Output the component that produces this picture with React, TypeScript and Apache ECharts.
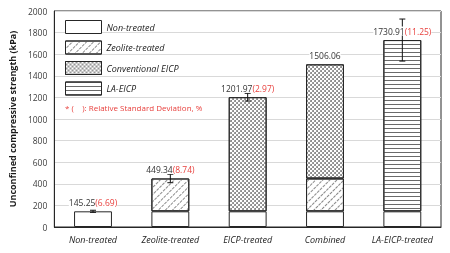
import React, { useEffect, useRef } from "react";
import * as echarts from "echarts";

const categories = ["Non-treated", "Zeolite-treated", "EICP-treated", "Combined", "LA-EICP-treated"];
const nonTreated = [145.25, 145.25, 145.25, 145.25, 145.25];
const zeolite = [null, 304.09, null, 304.09, null];
const eicp = [null, null, 1056.72, 1056.72, null];
const laEicp = [null, null, null, null, 1585.66];
const totals = [145.25, 449.34, 1201.97, 1506.06, 1730.91];
const totalLabels = ["145.25", "449.34", "1201.97", "1506.06", "1730.91"];
const rsdLabels = ["(6.69)", "(8.74)", "(2.97)", "", "(11.25)"];
const errors = [9.7, 39.3, 35.7, 0, 194.7];

const FONT = "Open Sans";
const BORDER = "#262626";

export default function App() {
  const ref = useRef<HTMLDivElement>(null);
  useEffect(() => {
    if (!ref.current) return;
    const chart = echarts.init(ref.current, null, { renderer: "svg" });
    const barStyle = (decal: any) => ({
      color: "#ffffff",
      borderColor: BORDER,
      borderWidth: 1,
      decal,
    });
    const zeoDecal = {
      symbol: "rect",
      symbolSize: 1,
      color: "#8a8a8a",
      backgroundColor: "#ffffff",
      dashArrayX: [[3, 1]],
      dashArrayY: [0.8, 3.5],
      rotation: -Math.PI / 4,
    };
    const eicpDecal = {
      symbol: "circle",
      symbolSize: 0.9,
      color: "#6e6e6e",
      backgroundColor: "#ffffff",
      dashArrayX: [[1.5, 1.5], [0, 1.5, 1.5, 0]],
      dashArrayY: [1.5, 0],
      rotation: 0,
    };
    const laDecal = {
      symbol: "rect",
      symbolSize: 1,
      color: "#6a6a6a",
      backgroundColor: "#ffffff",
      dashArrayX: [1, 0],
      dashArrayY: [0.8, 2.6],
      rotation: 0,
    };
    const customData = categories.map((_, i) => [i, totals[i], errors[i]]);
    chart.setOption({
      animation: false,
      textStyle: { fontFamily: FONT },
      grid: { left: 53, top: 11, right: 9, bottom: 26, show: true, borderColor: BORDER, borderWidth: 1, containLabel: false },
      legend: {
        data: ["Non-treated", "Zeolite-treated", "Conventional EICP", "LA-EICP"],
        orient: "vertical",
        left: 65,
        top: 20,
        icon: "rect",
        itemWidth: 36,
        itemHeight: 13,
        itemGap: 6.5,
        padding: 0,
        selectedMode: false,
        itemStyle: { borderWidth: 1, borderColor: BORDER },
        textStyle: { fontFamily: FONT, fontStyle: "italic", fontSize: 9, color: "#222" },
      },
      graphic: [
        {
          type: "text",
          left: 65,
          top: 103,
          style: { text: "* (    ): Relative Standard Deviation, %", fill: "#e8413e", font: `8px "${FONT}"` },
        },
      ],
      xAxis: {
        type: "category",
        data: categories,
        axisLine: { lineStyle: { color: BORDER } },
        axisTick: { show: false },
        axisLabel: { interval: 0, fontStyle: "italic", fontSize: 9, color: "#222", margin: 8, fontFamily: FONT },
      },
      yAxis: {
        type: "value",
        min: 0,
        max: 2000,
        interval: 200,
        name: "Unconfined compressive strength (kPa)",
        nameLocation: "middle",
        nameGap: 30,
        nameTextStyle: { fontWeight: "bold", fontSize: 9, color: "#1a1a1a", fontFamily: FONT },
        axisLine: { show: true, lineStyle: { color: BORDER } },
        axisTick: { show: false },
        axisLabel: { fontSize: 8.5, color: "#404040", margin: 7, fontFamily: FONT, formatter: (v: number) => String(v) },
        splitLine: { lineStyle: { color: "#d9d9d9" } },
      },
      series: [
        { name: "Non-treated", type: "bar", stack: "s", barWidth: "49%", data: nonTreated, itemStyle: barStyle(undefined) },
        { name: "Zeolite-treated", type: "bar", stack: "s", data: zeolite, itemStyle: barStyle(zeoDecal) },
        { name: "Conventional EICP", type: "bar", stack: "s", data: eicp, itemStyle: barStyle(eicpDecal) },
        { name: "LA-EICP", type: "bar", stack: "s", data: laEicp, itemStyle: barStyle(laDecal) },
        {
          name: "err",
          type: "custom",
          z: 10,
          data: customData,
          renderItem: (params: any, api: any) => {
            const i = api.value(0);
            const t = api.value(1);
            const e = api.value(2);
            const top = api.coord([i, t]);
            const hi = api.coord([i, t + e]);
            const lo = api.coord([i, t - e]);
            const cw = 3;
            const children: any[] = [];
            if (e > 0) {
              const ls = { stroke: "#111", lineWidth: 1 };
              children.push({ type: "line", shape: { x1: top[0], y1: hi[1], x2: top[0], y2: lo[1] }, style: ls });
              children.push({ type: "line", shape: { x1: top[0] - cw, y1: hi[1], x2: top[0] + cw, y2: hi[1] }, style: ls });
              children.push({ type: "line", shape: { x1: top[0] - cw, y1: lo[1], x2: top[0] + cw, y2: lo[1] }, style: ls });
            }
            const r = rsdLabels[i];
            children.push({
              type: "text",
              x: top[0],
              y: top[1] - 9,
              style: {
                text: `{v|${totalLabels[i]}}` + (r ? `{r|${r}}` : ""),
                align: "center",
                verticalAlign: "middle",
                backgroundColor: "#ffffff",
                rich: {
                  v: { fontSize: 8.5, fill: "#333", fontFamily: FONT },
                  r: { fontSize: 8.5, fill: "#e8413e", fontFamily: FONT },
                },
              },
            });
            return { type: "group", children };
          },
        },
      ],
    });
    return () => chart.dispose();
  }, []);
  return <div ref={ref} style={{ position: "fixed", left: 0, top: 0, width: 450, height: 253 }} />;
}
